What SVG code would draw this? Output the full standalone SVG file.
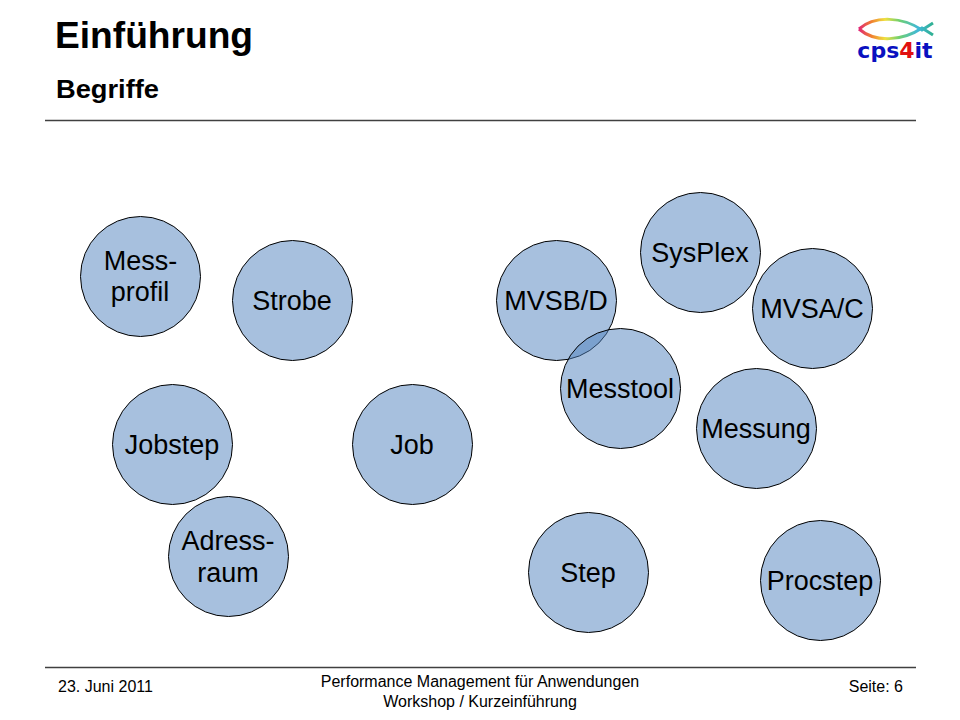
<svg xmlns="http://www.w3.org/2000/svg" width="960" height="720" viewBox="0 0 960 720">
<defs>
<linearGradient id="rainbow" gradientUnits="userSpaceOnUse" x1="858" y1="0" x2="933" y2="0">
<stop offset="0" stop-color="#e0207a"/><stop offset="0.18" stop-color="#f08030"/><stop offset="0.36" stop-color="#f0e040"/><stop offset="0.55" stop-color="#70d070"/><stop offset="0.8" stop-color="#40b8d8"/><stop offset="1" stop-color="#30b090"/>
</linearGradient>
</defs>
<style>
text{font-family:"Liberation Sans",Arial,sans-serif;fill:#000}
.n circle{fill:#4f81bd;fill-opacity:.5;stroke:#000;stroke-width:1}
.n text{font-size:27px;text-anchor:middle}
.f{font-size:16px}
.rule{stroke:#404040;stroke-width:1.3}
</style>
<rect width="960" height="720" fill="#fff"/>
<text x="55" y="48" font-size="37" font-weight="bold" textLength="198" lengthAdjust="spacingAndGlyphs">Einführung</text>
<text x="56" y="98" font-size="26" font-weight="bold" textLength="103" lengthAdjust="spacingAndGlyphs">Begriffe</text>
<g id="logo">
<path d="M859 29C875 15 903 17 922 30L933 23M859 29C875 43 903 41 922 28L933 35" fill="none" stroke="url(#rainbow)" stroke-width="3"/>
<text x="895" y="58" font-size="22" font-weight="bold" text-anchor="middle" style="fill:#0a10c0;font-family:'DejaVu Sans',sans-serif">cps<tspan style="fill:#e01010">4</tspan>it</text>
</g>
<line class="rule" x1="45" y1="120.500" x2="916" y2="120.500"/>
<g id="connectors"></g>
<g id="mess-profil" class="n"><circle cx="140.500" cy="276.500" r="60"/><text x="140.500" y="270">Mess-</text><text x="140" y="301">profil</text></g>
<g id="strobe" class="n"><circle cx="292.500" cy="300.500" r="60"/><text x="292" y="310">Strobe</text></g>
<g id="jobstep" class="n"><circle cx="172.500" cy="444.500" r="60"/><text x="172" y="454">Jobstep</text></g>
<g id="job" class="n"><circle cx="412.500" cy="444.500" r="60"/><text x="412" y="454">Job</text></g>
<g id="adress-raum" class="n"><circle cx="228.500" cy="556.500" r="60"/><text x="228" y="550">Adress-</text><text x="228" y="582">raum</text></g>
<g id="mvsbd" class="n"><circle cx="556.500" cy="300.500" r="60"/><text x="556" y="310">MVSB/D</text></g>
<g id="messtool" class="n"><circle cx="620.500" cy="388.500" r="60"/><text x="620" y="398">Messtool</text></g>
<g id="sysplex" class="n"><circle cx="700.500" cy="252.500" r="60"/><text x="700" y="262">SysPlex</text></g>
<g id="mvsac" class="n"><circle cx="812.500" cy="308.500" r="60"/><text x="812" y="318">MVSA/C</text></g>
<g id="messung" class="n"><circle cx="756.500" cy="428.500" r="60"/><text x="756" y="438">Messung</text></g>
<g id="step" class="n"><circle cx="588.500" cy="572.500" r="60"/><text x="588" y="582">Step</text></g>
<g id="procstep" class="n"><circle cx="820.500" cy="580.500" r="60"/><text x="820" y="590">Procstep</text></g>
<line class="rule" x1="45" y1="667.500" x2="916" y2="667.500"/>
<text class="f" x="58" y="692">23. Juni 2011</text>
<text class="f" x="480" y="687" text-anchor="middle">Performance Management für Anwendungen</text>
<text class="f" x="480" y="707" text-anchor="middle">Workshop / Kurzeinführung</text>
<text class="f" x="903" y="692" text-anchor="end">Seite: 6</text>
</svg>
